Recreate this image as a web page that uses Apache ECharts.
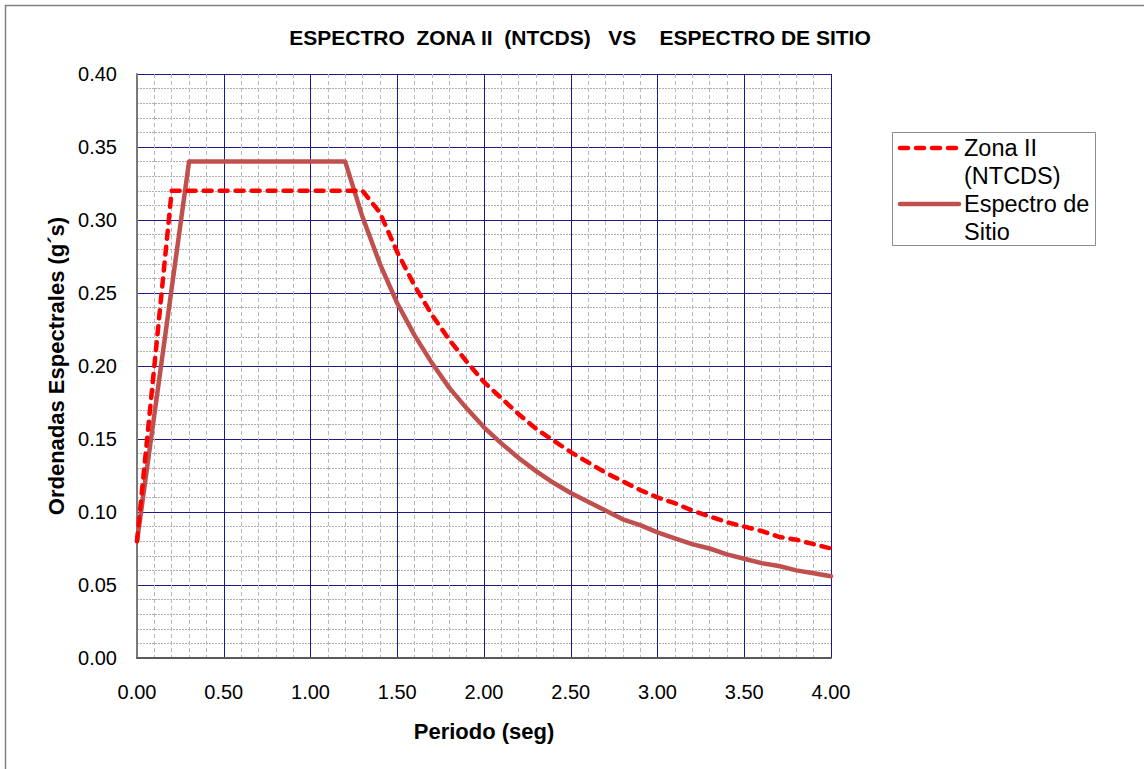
<!DOCTYPE html>
<html>
<head>
<meta charset="utf-8">
<script src="https://cdn.jsdelivr.net/npm/echarts@6/dist/echarts.min.js"></script>
<style>
html,body{margin:0;padding:0;background:#fff;}
#chart{width:1144px;height:769px;}
</style>
</head>
<body>
<div id="chart"></div>
<script>
// ---- Data ----
const titleText = 'ESPECTRO  ZONA II  (NTCDS)   VS    ESPECTRO DE SITIO';
const xAxisName = 'Periodo (seg)';
const yAxisName = 'Ordenadas Espectrales (g\u00B4s)';
const seriesNames = ['Zona II (NTCDS)', 'Espectro de Sitio'];
const legendLines = [['Zona II', '(NTCDS)'], ['Espectro de', 'Sitio']];

const periodoZona = [0, 0.2, 1.3, 1.4, 1.5, 1.6, 1.7, 1.8, 1.9, 2.0, 2.1, 2.2, 2.3, 2.4, 2.5, 2.6, 2.7, 2.8, 2.9, 3.0, 3.1, 3.2, 3.3, 3.4, 3.5, 3.6, 3.7, 3.8, 3.9, 4.0];
const zonaII = [0.080, 0.320, 0.320, 0.305, 0.278, 0.255, 0.235, 0.218, 0.203, 0.189, 0.178, 0.167, 0.157, 0.149, 0.141, 0.134, 0.127, 0.121, 0.115, 0.110, 0.106, 0.101, 0.097, 0.093, 0.090, 0.087, 0.083, 0.081, 0.078, 0.075];

const periodoSitio = [0, 0.3, 1.2, 1.3, 1.4, 1.5, 1.6, 1.7, 1.8, 1.9, 2.0, 2.1, 2.2, 2.3, 2.4, 2.5, 2.6, 2.7, 2.8, 2.9, 3.0, 3.1, 3.2, 3.3, 3.4, 3.5, 3.6, 3.7, 3.8, 3.9, 4.0];
const sitio = [0.080, 0.340, 0.340, 0.302, 0.270, 0.243, 0.221, 0.202, 0.185, 0.171, 0.158, 0.147, 0.137, 0.128, 0.120, 0.113, 0.107, 0.101, 0.095, 0.091, 0.086, 0.082, 0.078, 0.075, 0.071, 0.068, 0.065, 0.063, 0.060, 0.058, 0.056];

const xMin = 0, xMax = 4, xStep = 0.5;
const yMin = 0, yMax = 0.4, yStep = 0.05;

// ---- Chart ----
const FONT = '"Liberation Sans", Arial, sans-serif';
const colors = ['#FF0000', '#C0504D'];
const chart = echarts.init(document.getElementById('chart'), null, {renderer: 'svg'});

const pairs = (xs, ys) => xs.map((x, i) => [x, ys[i]]);

const legendX = 892, legendY = 132, legendW = 203, legendH = 113;
const legendGraphics = [
  {type: 'rect', shape: {x: legendX + 0.5, y: legendY + 0.5, width: legendW, height: legendH},
   style: {fill: '#fff', stroke: '#8C8C8C', lineWidth: 1}, z: 100},
  {type: 'line', shape: {x1: 900, y1: 148, x2: 959, y2: 148},
   style: {stroke: colors[0], lineWidth: 4.5, lineDash: [8, 8], lineCap: 'round'}, z: 101},
  {type: 'line', shape: {x1: 900, y1: 204, x2: 959, y2: 204},
   style: {stroke: colors[1], lineWidth: 4.5, lineCap: 'round'}, z: 101}
];
const legendRows = [148, 176, 204, 232];
legendLines.flat().forEach((t, i) => {
  legendGraphics.push({type: 'text', x: 964, y: legendRows[i], z: 101,
    style: {text: t, font: '23.5px ' + FONT, fill: '#000', textAlign: 'left', textVerticalAlign: 'middle'}});
});

const option = {
  backgroundColor: '#fff',
  animation: false,
  grid: {left: 137, top: 74, right: 313, bottom: 111, containLabel: false},
  xAxis: {
    type: 'value', min: xMin, max: xMax, interval: xStep,
    name: xAxisName, nameLocation: 'middle', nameGap: 62,
    nameTextStyle: {fontFamily: FONT, fontSize: 22, fontWeight: 'bold', color: '#000'},
    axisLine: {show: true, onZero: false, lineStyle: {color: '#5A5A5A', width: 2}},
    axisTick: {show: false},
    minorTick: {show: false, splitNumber: 5},
    axisLabel: {fontFamily: FONT, fontSize: 20, color: '#000', margin: 24,
      formatter: v => v.toFixed(2)},
    splitLine: {show: true, lineStyle: {color: '#1A1A8C', width: 1}},
    minorSplitLine: {show: true, lineStyle: {color: '#B8B8B8', width: 1, type: [4, 3]}}
  },
  yAxis: {
    type: 'value', min: yMin, max: yMax, interval: yStep,
    name: yAxisName, nameLocation: 'middle', nameGap: 70,
    nameTextStyle: {fontFamily: FONT, fontSize: 22, fontWeight: 'bold', color: '#000'},
    axisLine: {show: true, onZero: false, lineStyle: {color: '#7A7A7A', width: 2}},
    axisTick: {show: false},
    minorTick: {show: false, splitNumber: 5},
    axisLabel: {fontFamily: FONT, fontSize: 20, color: '#000', margin: 20,
      formatter: v => v.toFixed(2)},
    splitLine: {show: true, lineStyle: {color: '#1A1A8C', width: 1}},
    minorSplitLine: {show: true, lineStyle: {color: '#B0B0B0', width: 1, type: [2, 1]}}
  },
  series: [
    {name: seriesNames[0], type: 'line', data: pairs(periodoZona, zonaII),
     showSymbol: false, symbol: 'none', smooth: false, z: 3,
     lineStyle: {color: colors[0], width: 4.5, type: [8, 8], cap: 'round', join: 'round'}},
    {name: seriesNames[1], type: 'line', data: pairs(periodoSitio, sitio),
     showSymbol: false, symbol: 'none', smooth: false, z: 2,
     lineStyle: {color: colors[1], width: 4.5, cap: 'round', join: 'round'}}
  ],
  graphic: [
    {type: 'rect', shape: {x: 5.5, y: 5.5, width: 1150, height: 780},
     style: {fill: 'none', stroke: '#808080', lineWidth: 1.5}, z: 0, silent: true},
    {type: 'text', x: 580, y: 37, z: 50,
     style: {text: titleText, font: 'bold 21px ' + FONT, fill: '#000', textAlign: 'center', textVerticalAlign: 'middle'}}
  ].concat(legendGraphics)
};
chart.setOption(option);
</script>
</body>
</html>
